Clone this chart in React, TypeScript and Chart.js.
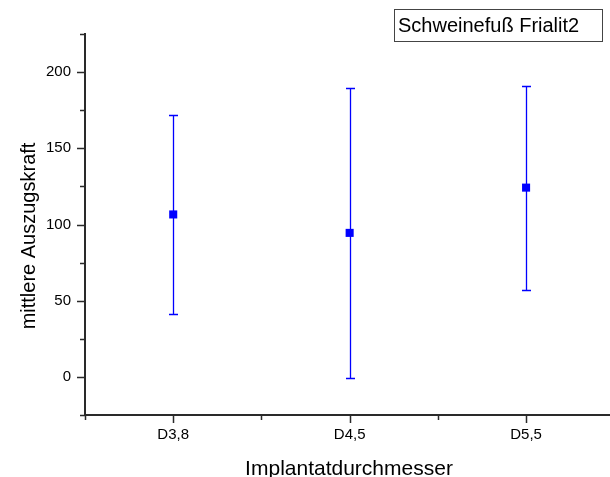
import React, { useEffect, useRef } from "react";
import { Chart, registerables } from "chart.js";

Chart.register(...registerables);

// Implant diameters and mean pull-out force with spread
const categories = ["D3,8", "D4,5", "D5,5"];
const means = [106.6, 94.5, 124.2];
const errors = [65.4, 94.9, 67.0];

// Axis ticks
const xTickValues = [0.5, 1, 1.5, 2, 2.5, 3];
const yTickValues = [-25, 0, 25, 50, 75, 100, 125, 150, 175, 200, 225];
const yLabelledTicks = [0, 50, 100, 150, 200];

const seriesName = "Schweinefuß Frialit2";
const xTitle = "Implantatdurchmesser";
const yTitle = "mittlere Auszugskraft";

const FONT = "'Liberation Sans', Arial, sans-serif";
const AXIS_COLOR = "#2a2a2a";
const BLUE = "#0000ff";

const tickMarks = {
  id: "tickMarks",
  afterDraw(chart: any) {
    const { ctx, chartArea } = chart;
    const xs = chart.scales.x;
    const ys = chart.scales.y;
    ctx.save();
    ctx.strokeStyle = AXIS_COLOR;
    ctx.lineWidth = 1.5;
    ctx.beginPath();
    xs.ticks.forEach((t: any) => {
      const major = Number.isInteger(t.value);
      const px = Math.round(xs.getPixelForValue(t.value)) + 0.5;
      ctx.moveTo(px, chartArea.bottom);
      ctx.lineTo(px, chartArea.bottom + (major ? 8 : 5));
    });
    ys.ticks.forEach((t: any) => {
      const major = yLabelledTicks.includes(t.value);
      const py = Math.round(ys.getPixelForValue(t.value)) + 0.5;
      ctx.moveTo(chartArea.left, py);
      ctx.lineTo(chartArea.left - (major ? 8 : 5), py);
    });
    ctx.stroke();
    ctx.restore();
  },
};

const errorBars = {
  id: "errorBars",
  beforeDatasetsDraw(chart: any) {
    const { ctx } = chart;
    const xs = chart.scales.x;
    const ys = chart.scales.y;
    ctx.save();
    ctx.strokeStyle = BLUE;
    ctx.lineWidth = 1.3;
    means.forEach((m, i) => {
      const px = Math.round(xs.getPixelForValue(i + 1)) + 0.5;
      const top = Math.round(ys.getPixelForValue(m + errors[i])) + 0.5;
      const bot = Math.round(ys.getPixelForValue(m - errors[i])) + 0.5;
      ctx.beginPath();
      ctx.moveTo(px, top);
      ctx.lineTo(px, bot);
      ctx.moveTo(px - 4.5, top);
      ctx.lineTo(px + 4.5, top);
      ctx.moveTo(px - 4.5, bot);
      ctx.lineTo(px + 4.5, bot);
      ctx.stroke();
    });
    ctx.restore();
  },
};

const annotations = {
  id: "annotations",
  afterDraw(chart: any) {
    const { ctx, chartArea } = chart;
    ctx.save();
    ctx.fillStyle = "#000";

    // x-axis title
    ctx.font = `21px ${FONT}`;
    ctx.textAlign = "center";
    ctx.textBaseline = "alphabetic";
    ctx.fillText(xTitle, (chartArea.left + chartArea.right) / 2 + 2, 475);

    // y-axis title
    ctx.font = `20px ${FONT}`;
    ctx.save();
    ctx.translate(35, 236);
    ctx.rotate(-Math.PI / 2);
    ctx.textAlign = "center";
    ctx.fillText(yTitle, 0, 0);
    ctx.restore();

    // series label box
    ctx.strokeStyle = "#444";
    ctx.lineWidth = 1;
    ctx.strokeRect(394.5, 9.5, 208, 32);
    ctx.textAlign = "left";
    ctx.fillText(seriesName, 398, 32);
    ctx.restore();
  },
};

export default function App() {
  const canvasRef = useRef<HTMLCanvasElement | null>(null);

  useEffect(() => {
    if (!canvasRef.current) return;
    const chart = new Chart(canvasRef.current, {
      type: "scatter",
      data: {
        datasets: [
          {
            label: seriesName,
            data: means.map((m, i) => ({ x: i + 1, y: m })),
            pointStyle: "rect",
            pointRadius: 5.7,
            pointHoverRadius: 5.7,
            backgroundColor: BLUE,
            borderColor: BLUE,
            borderWidth: 0,
            showLine: false,
          },
        ],
      },
      options: {
        responsive: false,
        animation: false,
        devicePixelRatio: 1,
        layout: {
          autoPadding: false,
          padding: { top: 34, right: 1, left: 0, bottom: 0 },
        },
        plugins: {
          legend: { display: false },
          tooltip: { enabled: false },
          title: { display: false },
        },
        scales: {
          x: {
            type: "linear",
            min: 0.5,
            max: 3.47,
            afterBuildTicks: (scale: any) => {
              scale.ticks = xTickValues.map((v) => ({ value: v }));
            },
            afterFit: (scale: any) => {
              scale.height = 62;
              scale.paddingLeft = 0;
              scale.paddingRight = 0;
            },
            grid: { display: false, drawTicks: false, tickLength: 0 },
            border: { display: true, color: AXIS_COLOR, width: 2 },
            ticks: {
              autoSkip: false,
              maxRotation: 0,
              padding: 11,
              color: "#000",
              font: { family: FONT, size: 15 },
              callback: (v: any) =>
                Number.isInteger(v) ? categories[v - 1] ?? "" : "",
            },
          },
          y: {
            type: "linear",
            min: -25,
            max: 225,
            afterBuildTicks: (scale: any) => {
              scale.ticks = yTickValues.map((v) => ({ value: v }));
            },
            afterFit: (scale: any) => {
              scale.width = 85;
              scale.paddingTop = 0;
              scale.paddingBottom = 0;
            },
            grid: { display: false, drawTicks: false, tickLength: 0 },
            border: { display: true, color: AXIS_COLOR, width: 2 },
            ticks: {
              autoSkip: false,
              padding: 14,
              color: "#000",
              font: { family: FONT, size: 15 },
              callback: (v: any) =>
                yLabelledTicks.includes(v) ? String(v) : "",
            },
          },
        },
      },
      plugins: [errorBars, tickMarks, annotations],
    });
    return () => chart.destroy();
  }, []);

  return (
    <div style={{ position: "absolute", left: 0, top: 0, width: 610, height: 477, background: "#fff" }}>
      <canvas ref={canvasRef} width={610} height={477} />
    </div>
  );
}
